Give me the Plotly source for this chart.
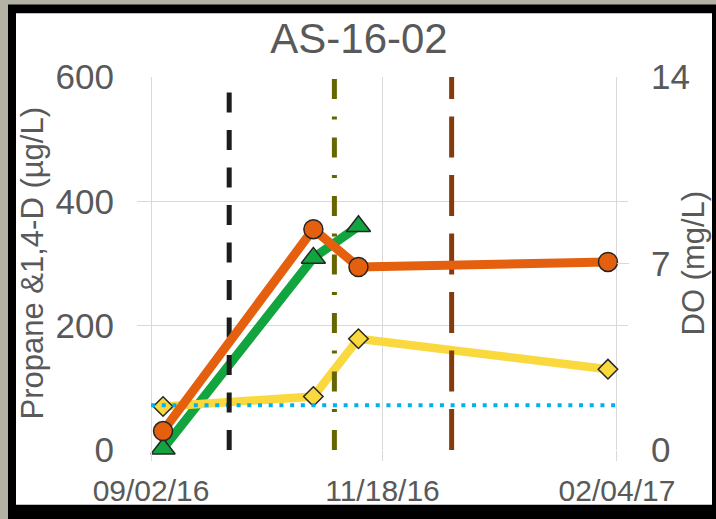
import plotly.graph_objects as go

# sample dates and results
sample_dates = ['2016-09-06', '2016-10-26', '2016-11-10', '2017-02-01']
propane = [2, 309, 360]                 # ug/L, green triangles
dioxane = [70, 86, 179, 130]            # ug/L, yellow diamonds
do_mgl = [0.71, 8.29, 6.87, 7.06]       # mg/L, orange circles (right axis)

# reference level (dotted blue)
ref_dates = ['2016-09-02', '2017-02-04']
ref_level = [72, 72]

# event markers (vertical lines)
event_dates = ['2016-09-28', '2016-11-02', '2016-12-11']
event_colors = ['#1c1c1c', '#666600', '#843c0c']
event_dash = ['20px,17.5px', '20px,18px,3px,17.5px', '41px,17.5px']

x_ticks = ['2016-09-02', '2016-11-18', '2017-02-04']
x_ticktext = ['09/02/16', '11/18/16', '02/04/17']
y_ticks = [0, 200, 400, 600]
y2_ticks = [0, 7, 14]

FONT = 'Liberation Sans, Arial, sans-serif'
GRAY = '#595959'
GRID = '#d9d9d9'

W, H = 716, 519
L, R, T, B = 137, 628, 77, 452   # plot area in pixels


def px(x):
    return (x - L) / (R - L)


def py(y):
    return (B - y) / (B - T)


fig = go.Figure()

fig.add_trace(go.Scatter(
    x=sample_dates[:3], y=propane,
    mode='lines+markers', cliponaxis=False,
    line=dict(color='#12a43e', width=9),
    marker=dict(symbol='triangle-up', size=21, color='#12a43e',
                line=dict(color='#262626', width=1.5)),
))

fig.add_trace(go.Scatter(
    x=sample_dates, y=do_mgl, yaxis='y2',
    mode='lines+markers',
    line=dict(color='#e4600f', width=9),
    marker=dict(symbol='circle', size=19, color='#e4600f',
                line=dict(color='#262626', width=1.5)),
))

fig.add_trace(go.Scatter(
    x=sample_dates, y=dioxane,
    mode='lines+markers',
    line=dict(color='#f9d93e', width=8.5),
    marker=dict(symbol='diamond', size=15, color='#f9d93e',
                line=dict(color='#262626', width=1.5)),
))

fig.add_trace(go.Scatter(
    x=ref_dates, y=ref_level,
    mode='lines',
    line=dict(color='#00b0f0', width=4, dash='4px,6.7px'),
))

for d, c, ds in zip(event_dates, event_colors, event_dash):
    fig.add_trace(go.Scatter(
        x=[d, d], y=[0, 600],
        mode='lines',
        line=dict(color=c, width=5, dash=ds),
    ))

# black frame + white panel
fig.add_shape(type='rect', xref='paper', yref='paper', layer='below',
              x0=px(8), x1=px(740), y0=py(540), y1=py(4),
              fillcolor='black', line=dict(width=0))
fig.add_shape(type='rect', xref='paper', yref='paper', layer='below',
              x0=px(16), x1=px(712), y0=py(507), y1=py(13),
              fillcolor='white', line=dict(width=0))
# tick mark at DO = 7
fig.add_shape(type='line', xref='paper', yref='y2',
              x0=px(617), x1=px(629), y0=7, y1=7,
              line=dict(color=GRID, width=1))

fig.add_annotation(text='Propane &1,4-D (µg/L)', xref='paper', yref='paper',
                   x=px(32), y=0.5, textangle=-90, showarrow=False,
                   xanchor='center', yanchor='middle',
                   font=dict(family=FONT, size=31, color=GRAY))
fig.add_annotation(text='DO (mg/L)', xref='paper', yref='paper',
                   x=px(693), y=0.5, textangle=-90, showarrow=False,
                   xanchor='center', yanchor='middle',
                   font=dict(family=FONT, size=31, color=GRAY))

fig.update_layout(
    width=W, height=H,
    margin=dict(l=L, r=W - R, t=T, b=H - B),
    paper_bgcolor='#b4b2a4',
    plot_bgcolor='white',
    showlegend=False,
    title=dict(text='AS-16-02', x=359 / W, xanchor='center',
               y=1 - 38 / H, yanchor='middle',
               font=dict(family=FONT, size=42, color=GRAY)),
    xaxis=dict(
        type='date',
        range=['2016-08-28 08:00', '2017-02-07 16:00'],
        tickvals=x_ticks, ticktext=x_ticktext,
        showgrid=True, gridcolor=GRID, gridwidth=1,
        ticks='outside', ticklen=10, tickcolor=GRID,
        ticklabelstandoff=4,
        zeroline=False, showline=False,
        tickfont=dict(family=FONT, size=30, color=GRAY),
    ),
    yaxis=dict(
        range=[0, 600], tickvals=y_ticks,
        showgrid=True, gridcolor=GRID, gridwidth=1,
        ticks='', ticklabelstandoff=22,
        zeroline=False, showline=False,
        tickfont=dict(family=FONT, size=35, color=GRAY),
    ),
    yaxis2=dict(
        range=[0, 14], tickvals=y2_ticks,
        overlaying='y', side='right',
        showgrid=False, ticks='', ticklabelstandoff=22,
        zeroline=False, showline=False,
        tickfont=dict(family=FONT, size=35, color=GRAY),
    ),
)

fig.write_html('out.html',
               config={'displayModeBar': False},
               post_script="document.body.style.margin='0px';"
                           "document.body.style.background='#b4b2a4';")
